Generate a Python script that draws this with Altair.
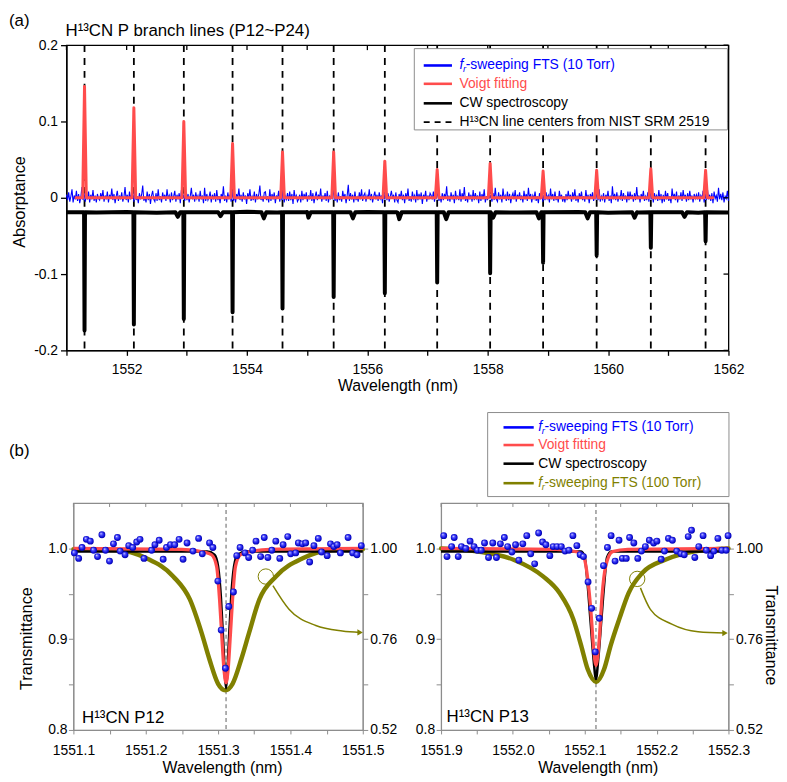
import altair as alt
import numpy as np
import pandas as pd

FONT = "Liberation Sans"
BLUE = "#0000ff"
RED = "#ff4c4c"
OLIVE = "#808000"
FRAME_GRAY = "#8c8c8c"

# ---------------- panel (a) data ----------------
A_WL_DOMAIN = [1551, 1562]
A_ABS_DOMAIN = [-0.2, 0.2]
A_WL_TICKS = [1551, 1552, 1553, 1554, 1555, 1556, 1557, 1558, 1559, 1560, 1561, 1562]
A_ABS_TICKS = [-0.2, -0.1, 0.0, 0.1, 0.2]

LINE_LABELS = ["P12", "P13", "P14", "P15", "P16", "P17", "P18",
               "P19", "P20", "P21", "P22", "P23", "P24"]
LINE_CENTERS_NM = [1551.30, 1552.12, 1552.95, 1553.76, 1554.59, 1555.44, 1556.29,
                   1557.16, 1558.04, 1558.92, 1559.81, 1560.71, 1561.62]
VOIGT_PEAK_ABS = [0.146, 0.118, 0.100, 0.071, 0.060, 0.060, 0.048,
                  0.037, 0.045, 0.035, 0.036, 0.038, 0.036]
VOIGT_SPAN_NM = [1551.16, 1561.74]
CW_DIP_ABS = [-0.174, -0.166, -0.159, -0.150, -0.145, -0.130, -0.125,
              -0.111, -0.099, -0.085, -0.0755, -0.0656, -0.057]
CW_LEVEL = -0.019
HOT_BAND_NM = [1552.85, 1553.56, 1554.28, 1555.02, 1555.76, 1556.53,
               1557.31, 1558.09, 1558.85, 1559.66, 1560.44, 1561.27]
HOT_BAND_ABS = [-0.025, -0.024, -0.027, -0.026, -0.027, -0.028,
                -0.028, -0.026, -0.027, -0.027, -0.026, -0.025]
CW_BASELINE_NM = [1551.0, 1551.5, 1552.0, 1552.5, 1553.0, 1553.5, 1554.0, 1554.5,
                  1555.0, 1555.5, 1556.0, 1556.5, 1557.0, 1557.5, 1558.0, 1558.5,
                  1559.0, 1559.5, 1560.0, 1560.5, 1561.0, 1561.5, 1562.0]
CW_BASELINE_ABS = [-0.0190, -0.0192, -0.0185, -0.0195, -0.0188, -0.0190, -0.0183, -0.0192,
                   -0.0187, -0.0190, -0.0186, -0.0193, -0.0188, -0.0191, -0.0189, -0.0194,
                   -0.0190, -0.0187, -0.0195, -0.0192, -0.0189, -0.0196, -0.0193]
# f_r-sweeping FTS (10 Torr) absorptance trace, in units of 1e-3
FTS_NOISE_MILLI = [
    4, -3, 7, -5, 2, 11, -6, 3, -2, 9, -4, 5, -7, 1, 14, -3, 6, -5, 2, -1, 8, -6, 4, -2, 10, -4, 3, -6, 5, -1,
    -3, 6, -1, 10, -5, 3, -2, 8, -6, 4, -1, 12, -3, 5, -7, 2, 9, -4, 3, -2, 7, -5, 1, 14, -3, 4, -6, 8, -2, 5,
    7, -5, 12, -3, 2, -7, 6, -2, 4, 16, -4, 1, -6, 8, -3, 5, -8, 3, 9, -2, -5, 6, -4, 11, -3, 2, -6, 7, -1, 4,
    -4, 11, -1, 3, -6, 7, -3, 2, 9, -5, 4, -2, 6, -7, 10, -1, 3, -4, 8, -3, 5, -6, 2, 13, -2, 4, -5, 7, -1, 3,
    -5, 9, -2, 3, -7, 13, -4, 5, -3, 1, 8, -6, 4, -2, 6, -5, 10, -3, 2, -7, 5, -1, 15, -4, 3, -6, 7, -2, 4, -5,
    9, -4, 2, -6, 5, -1, 12, -3, 4, -5, 7, -2, 3, -8, 6, -1, 11, -4, 2, -3, 8, -6, 5, -2, 4, 16, -3, 1, -5, 7,
    8, -3, 2, -6, 11, -4, 5, -2, 7, -7, 3, -1, 9, -5, 4, -3, 12, -6, 2, -2, 6, -4, 8, -3, 5, -8, 10, -1, 3, -5,
    -2, 4, -6, 9, -3, 5, -1, 7, -5, 3, -2, 10, -4, 6, -7, 2, 8, -3, 4, -1, 12, -5, 3, -2, 6, -4, 9, -6, 2, -1,
    6, -2, 13, -4, 4, -6, 7, -3, 2, -5, 9, -1, 5, -7, 3, 17, -4, 6, -2, 4, -6, 8, -3, 1, -5, 7, -2, 11, -4, 3,
    6, -5, 3, -1, 11, -3, 5, -6, 2, 8, -2, 4, -4, 7, -1, 3, -7, 13, -2, 5, -3, 6, -5, 2, 9, -1, 4, -6, 7, -3,
    -6, 5, -1, 9, -3, 4, -7, 6, -2, 12, -4, 2, -5, 8, -1, 3, -6, 10, -3, 5, -2, 7, -8, 4, -1, 9, -5, 3, -2, 6,
    3, -2, 8, -5, 4, -1, 10, -4, 2, -6, 6, -3, 5, -1, 15, -4, 3, -5, 7, -2, 4, -7, 9, -1, 2, -3, 11, -5, 6, -2,
    14, -4, 2, -6, 7, -2, 4, -5, 10, -3, 6, -1, 3, -7, 8, -4, 5, -2, 11, -6, 2, -3, 9, -1, 4, -5, 6, -3, 13, -2,
    -5, 7, -2, 4, -6, 12, -1, 3, -4, 8, -3, 5, -7, 2, 6, -2, 10, -5, 4, -1, 7, -3, 3, -6, 9, -2, 5, -4, 13, -1,
    5, -6, 3, -1, 8, -4, 2, -7, 6, -2, 10, -5, 4, -3, 7, -1, 3, -6, 12, -2, 5, -4, 8, -3, 2, -6, 9, -1, 4, -5,
    2, -6, 5, -3, 9, -1, 4, -5, 7, -2, 11, -4, 3, -6, 6, -1, 8, -3, 2, -5, 10, -2, 4, -7, 5, -1, 7, -4, 3, -2,
    7, -3, 11, -5, 2, -2, 6, -6, 4, -1, 9, -4, 3, -7, 15, -2, 5, -3, 7, -5, 2, -1, 10, -4, 6, -2, 3, -6, 8, -3,
    8, -1, 4, -5, 6, -3, 14, -2, 3, -6, 5, -1, 9, -4, 2, -3, 7, -5, 12, -2, 4, -6, 6, -1, 3, -4, 10, -3, 5, -7,
    4, -5, 9, -2, 6, -4, 2, -7, 12, -1, 5, -3, 8, -6, 3, -2, 7, -4, 10, -1, 4, -5, 6, -3, 9, -2, 3, -6, 5, -1,
    4, -2, 7, -5, 3, -1, 9, -6, 5, -3, 11, -2, 4, -4, 6, -7, 8, -1, 3, -5, 13, -2, 5, -3, 7, -6, 2, -1, 9, -4,
]

# ---------------- panel (b) data ----------------
B_LEFT_DOMAIN = [0.8, 1.05]
B_LEFT_TICKS = [0.8, 0.85, 0.9, 0.95, 1.0]
B_RIGHT_DOMAIN = [0.52, 1.12]
B_RIGHT_TICKS = [0.52, 0.64, 0.76, 0.88, 1.00]

P12_DOMAIN = [1551.1, 1551.5]
P12_TICKS = [1551.10, 1551.15, 1551.20, 1551.25, 1551.30, 1551.35, 1551.40, 1551.45, 1551.50]
P12_CENTER = [1551.311]
P12_FIT_NM = [1551.100, 1551.250, 1551.280, 1551.291, 1551.298, 1551.302, 1551.305, 1551.308, 1551.311,
              1551.314, 1551.317, 1551.320, 1551.324, 1551.331, 1551.342, 1551.372, 1551.500]
P12_FIT_T = [1.000, 0.999, 0.996, 0.993, 0.980, 0.944, 0.905, 0.868, 0.852,
             0.868, 0.905, 0.944, 0.980, 0.993, 0.996, 0.999, 1.000]
P12_CW_NM = [1551.100, 1551.285, 1551.295, 1551.300, 1551.304, 1551.307, 1551.309, 1551.311,
             1551.313, 1551.315, 1551.318, 1551.322, 1551.327, 1551.340, 1551.500]
P12_CW_T = [0.9965, 0.9965, 0.993, 0.980, 0.945, 0.900, 0.866, 0.846,
            0.866, 0.900, 0.945, 0.980, 0.993, 0.9965, 0.9965]
P12_100T_NM = [1551.100, 1551.160, 1551.201, 1551.238, 1551.261, 1551.277, 1551.288, 1551.300, 1551.310,
               1551.320, 1551.332, 1551.343, 1551.357, 1551.380, 1551.417, 1551.458, 1551.500]
P12_100T_T = [0.998, 0.996, 0.974, 0.926, 0.865, 0.778, 0.707, 0.642, 0.625,
              0.642, 0.707, 0.778, 0.865, 0.926, 0.974, 0.996, 0.998]
P12_DOT_NM = [
    1551.1014, 1551.1073, 1551.1119, 1551.1179, 1551.1234, 1551.1279, 1551.1334, 1551.1394, 1551.1444, 1551.1499,
    1551.1554, 1551.1609, 1551.1646, 1551.1714, 1551.1765, 1551.1820, 1551.1875, 1551.1921, 1551.1976, 1551.2081,
    1551.2127, 1551.2186, 1551.2241, 1551.2287, 1551.2342, 1551.2401, 1551.2461, 1551.2516, 1551.2571, 1551.2653,
    1551.2731, 1551.2782, 1551.2882, 1551.2928, 1551.2997, 1551.3043, 1551.3102, 1551.3148, 1551.3212, 1551.3258,
    1551.3304, 1551.3372, 1551.3423, 1551.3478, 1551.3524, 1551.3588, 1551.3638, 1551.3688, 1551.3743, 1551.3798,
    1551.3853, 1551.3899, 1551.3963, 1551.4004, 1551.4073, 1551.4110, 1551.4165, 1551.4211, 1551.4266, 1551.4325,
    1551.4385, 1551.4430, 1551.4508, 1551.4554, 1551.4600, 1551.4646, 1551.4691, 1551.4797, 1551.4861, 1551.4920,
    1551.4980,
]
P12_DOT_T = [
    0.995, 0.989, 1.001, 1.010, 1.008, 0.998, 0.991, 1.015, 0.998, 0.986,
    1.005, 1.012, 0.997, 0.993, 1.003, 1.001, 1.007, 1.010, 0.989, 0.998,
    1.004, 1.009, 0.988, 1.001, 1.004, 1.004, 1.010, 0.988, 1.006, 0.997,
    1.011, 0.994, 1.006, 1.001, 0.964, 0.910, 0.868, 0.936, 0.952, 0.992,
    1.001, 0.995, 0.990, 0.998, 1.008, 0.991, 1.012, 0.990, 0.998, 1.008,
    0.989, 1.004, 1.013, 0.994, 0.995, 1.006, 1.005, 1.006, 0.985, 1.003,
    1.011, 0.996, 0.992, 1.005, 1.002, 1.004, 0.995, 1.012, 0.995, 0.993,
    1.003,
]
P12_CIRCLE = [1551.366, 0.969]
P12_ARROW_NM = [1551.3758, 1551.398, 1551.435, 1551.4716, 1551.4963]
P12_ARROW_T = [0.959, 0.933, 0.915, 0.909, 0.9074]

P13_DOMAIN = [1551.9, 1552.3]
P13_TICKS = [1551.90, 1551.95, 1552.00, 1552.05, 1552.10, 1552.15, 1552.20, 1552.25, 1552.30]
P13_CENTER = [1552.1156]
P13_FIT_NM = [1551.900, 1552.060, 1552.090, 1552.0973, 1552.1042, 1552.1087, 1552.112, 1552.1156,
              1552.1202, 1552.124, 1552.129, 1552.1386, 1552.160, 1552.300]
P13_FIT_T = [1.000, 0.999, 0.996, 0.993, 0.966, 0.929, 0.893, 0.871,
             0.900, 0.947, 0.980, 0.9965, 0.999, 1.000]
P13_CW_NM = [1551.900, 1552.095, 1552.100, 1552.104, 1552.108, 1552.112, 1552.1156,
             1552.119, 1552.123, 1552.127, 1552.131, 1552.137, 1552.300]
P13_CW_T = [0.9965, 0.9965, 0.990, 0.960, 0.920, 0.880, 0.856,
            0.880, 0.920, 0.960, 0.990, 0.9965, 0.9965]
P13_100T_NM = [1551.900, 1551.951, 1552.001, 1552.042, 1552.065, 1552.084, 1552.095, 1552.104, 1552.116,
               1552.127, 1552.136, 1552.148, 1552.161, 1552.180, 1552.212, 1552.253, 1552.300]
P13_100T_T = [1.000, 0.992, 0.970, 0.926, 0.882, 0.813, 0.743, 0.681, 0.647,
              0.681, 0.743, 0.813, 0.882, 0.935, 0.970, 0.992, 1.000]
P13_DOT_NM = [
    1551.9037, 1551.9083, 1551.9147, 1551.9183, 1551.9239, 1551.9284, 1551.9344, 1551.9404, 1551.9459, 1551.9505,
    1551.9560, 1551.9605, 1551.9661, 1551.9720, 1551.9771, 1551.9826, 1551.9881, 1551.9927, 1551.9986, 1552.0037,
    1552.0083, 1552.0138, 1552.0193, 1552.0248, 1552.0303, 1552.0358, 1552.0413, 1552.0459, 1552.0514, 1552.0560,
    1552.0615, 1552.0674, 1552.0725, 1552.0780, 1552.0835, 1552.0890, 1552.0936, 1552.0982, 1552.1046, 1552.1096,
    1552.1147, 1552.1202, 1552.1261, 1552.1316, 1552.1367, 1552.1422, 1552.1477, 1552.1523, 1552.1578, 1552.1624,
    1552.1683, 1552.1738, 1552.1789, 1552.1844, 1552.1899, 1552.1959, 1552.2004, 1552.2064, 1552.2110, 1552.2165,
    1552.2220, 1552.2280, 1552.2339, 1552.2385, 1552.2440, 1552.2486, 1552.2532, 1552.2587, 1552.2647, 1552.2692,
    1552.2752, 1552.2798, 1552.2853, 1552.2908, 1552.2968, 1552.2995,
]
P13_DOT_T = [
    1.014, 0.991, 1.002, 1.012, 0.991, 1.002, 1.000, 1.008, 1.002, 0.998,
    0.998, 1.006, 0.990, 1.006, 0.990, 1.005, 1.012, 1.002, 0.996, 1.004,
    0.987, 1.005, 1.014, 0.994, 0.983, 1.017, 1.007, 1.004, 0.992, 1.002,
    1.002, 1.002, 0.997, 0.998, 1.014, 1.003, 0.993, 0.991, 0.963, 0.934,
    0.886, 0.923, 0.981, 1.001, 1.014, 0.986, 1.009, 0.989, 0.989, 1.012,
    1.006, 0.989, 0.997, 1.002, 1.009, 1.006, 1.008, 0.988, 0.997, 1.011,
    1.009, 0.997, 0.994, 0.993, 1.013, 1.020, 0.990, 1.002, 1.014, 0.998,
    0.992, 0.997, 1.011, 0.998, 0.998, 1.014,
]
P13_CIRCLE = [1552.173, 0.9664]
P13_ARROW_NM = [1552.1775, 1552.1913, 1552.2211, 1552.2578, 1552.2952]
P13_ARROW_T = [0.9565, 0.9329, 0.9165, 0.9081, 0.9067]

LEGEND_A = [("f_r", "-sweeping FTS (10 Torr)", BLUE, BLUE, None),
            ("", "Voigt fitting", RED, RED, None),
            ("", "CW spectroscopy", "black", "black", None),
            ("", "H¹³CN line centers from NIST SRM 2519", "black", "black", [6, 5])]
LEGEND_B = [("f_r", "-sweeping FTS (10 Torr)", BLUE, BLUE, None),
            ("", "Voigt fitting", RED, RED, None),
            ("", "CW spectroscopy", "black", "black", None),
            ("f_r", "-sweeping FTS (100 Torr)", OLIVE, OLIVE, None)]

ONE = pd.DataFrame({"k": [0]})


def txt(x, y, s, size=14, color="black", style="normal", align="left", baseline="middle"):
    return alt.Chart(ONE).mark_text(
        text=s, font=FONT, fontSize=size, color=color, fontStyle=style,
        align=align, baseline=baseline,
    ).encode(x=alt.value(x), y=alt.value(y))


def legend_layers(entries, box, sym_x, text_x, rows):
    layers = [alt.Chart(ONE).mark_rect(fill="white", stroke="#8c8c8c", strokeWidth=1).encode(
        x=alt.value(box[0]), x2=alt.value(box[1]), y=alt.value(box[2]), y2=alt.value(box[3]))]
    for (prefix, label, lcolor, tcolor, dash), yy in zip(entries, rows):
        kw = dict(color=lcolor, strokeWidth=2.6)
        if dash:
            kw["strokeDash"] = dash
            kw["strokeWidth"] = 1.8
        layers.append(alt.Chart(ONE).mark_rule(**kw).encode(
            x=alt.value(sym_x[0]), x2=alt.value(sym_x[1]), y=alt.value(yy)))
        if prefix == "f_r":
            layers.append(txt(text_x, yy, "f", color=tcolor, style="italic"))
            layers.append(txt(text_x + 3.6, yy + 4, "r", size=9.5, color=tcolor, style="italic"))
            layers.append(txt(text_x + 6.3, yy, label, color=tcolor))
        else:
            layers.append(txt(text_x, yy, label, color=tcolor))
    return layers


# ---------------- panel (a) ----------------
W_A, H_A = 668, 308
sx_a = alt.Scale(domain=A_WL_DOMAIN, nice=False, zero=False)
sy_a = alt.Scale(domain=A_ABS_DOMAIN, nice=False, zero=False)

blue_df = pd.DataFrame({"wl": np.linspace(A_WL_DOMAIN[0], A_WL_DOMAIN[1], len(FTS_NOISE_MILLI)),
                        "a": np.array(FTS_NOISE_MILLI) / 1000.0})

red_x, red_y = [VOIGT_SPAN_NM[0]], [0.0]
for c, h in zip(LINE_CENTERS_NM, VOIGT_PEAK_ABS):
    red_x += [c - 0.03, c, c + 0.03]
    red_y += [0.0, h, 0.0]
red_x.append(VOIGT_SPAN_NM[1])
red_y.append(0.0)
red_df = pd.DataFrame({"wl": red_x, "a": red_y})

cw_x, cw_y = list(CW_BASELINE_NM), list(CW_BASELINE_ABS)
for c, d in zip(LINE_CENTERS_NM, CW_DIP_ABS):
    cw_x += [c - 0.008, c, c + 0.008]
    cw_y += [CW_LEVEL, d, CW_LEVEL]
for c, d in zip(HOT_BAND_NM, HOT_BAND_ABS):
    cw_x += [c - 0.04, c, c + 0.04]
    cw_y += [CW_LEVEL, d, CW_LEVEL]
cw_df = pd.DataFrame({"wl": cw_x, "a": cw_y}).sort_values("wl")

centers_df = pd.DataFrame({"line": LINE_LABELS, "wl": LINE_CENTERS_NM})

ax_a_x = alt.Axis(
    orient="bottom", values=A_WL_TICKS, format="d",
    labelExpr="datum.value % 2 == 0 ? datum.label : ''",
    tickSize=5, tickWidth=1.3, tickColor="black", domainColor="black", domainWidth=1.3,
    labelPadding=7.5, labelFontSize=14, labelFlush=False, labelOverlap=False,
    title="Wavelength (nm)", titleFontSize=16, titleY=35.5, titleBaseline="middle")
ax_a_y = alt.Axis(
    orient="left", values=A_ABS_TICKS,
    labelExpr="datum.value == 0 ? '0' : replace(format(datum.value, '.1f'), '\u2212', '-')",
    tickSize=6, tickWidth=1.3, tickColor="black", domainColor="black", domainWidth=1.3,
    labelPadding=3, labelFontSize=14, labelOverlap=False,
    title="Absorptance", titleFontSize=16.5, titleX=-47.5, titleY=157.7,
    titleAngle=270, titleAlign="center", titleBaseline="middle")

dash_layer = alt.Chart(centers_df).mark_rule(color="black", strokeWidth=1.8, strokeDash=[7, 6]).encode(
    x=alt.X("wl:Q", scale=sx_a, axis=None))
cw_layer = alt.Chart(cw_df).mark_line(color="black", strokeWidth=4, strokeJoin="round").encode(
    x=alt.X("wl:Q", scale=sx_a, axis=None), y=alt.Y("a:Q", scale=sy_a, axis=None))
blue_layer = alt.Chart(blue_df).mark_line(color=BLUE, strokeWidth=1.1).encode(
    x=alt.X("wl:Q", scale=sx_a, axis=ax_a_x), y=alt.Y("a:Q", scale=sy_a, axis=ax_a_y))
red_layer = alt.Chart(red_df).mark_line(color=RED, strokeWidth=3, strokeJoin="round", strokeCap="round").encode(
    x=alt.X("wl:Q", scale=sx_a, axis=None), y=alt.Y("a:Q", scale=sy_a, axis=None))
top_ticks_a = alt.Chart(pd.DataFrame({"wl": A_WL_TICKS})).mark_rule(color="black", strokeWidth=1.3).encode(
    x=alt.X("wl:Q", scale=sx_a, axis=None), y=alt.value(0), y2=alt.value(5))
right_ticks_a = alt.Chart(pd.DataFrame({"a": A_ABS_TICKS})).mark_rule(color="black", strokeWidth=1.3).encode(
    y=alt.Y("a:Q", scale=sy_a, axis=None), x=alt.value(W_A - 5), x2=alt.value(W_A))

panel_a = alt.layer(
    dash_layer, cw_layer, blue_layer, red_layer, top_ticks_a, right_ticks_a,
    *legend_layers(LEGEND_A, [351, 667, 3.5, 85.5], [360.5, 389], 396.5, [20.5, 39, 58.7, 77.7]),
    txt(-1, -13.8, "H¹³CN P branch lines (P12~P24)", size=17),
    txt(-58, -32, "(a)", size=17, baseline="top"),
    txt(-58, 410, "(b)", size=17),
).resolve_scale(x="independent", y="independent").properties(
    width=W_A, height=H_A, view=alt.ViewBackground(stroke="black", strokeWidth=1.3))


# ---------------- panel (b) ----------------
H_B = 229
DOT_FILL = alt.RadialGradient(
    gradient="radial", x1=0.35, y1=0.3, r1=0.0, x2=0.5, y2=0.5, r2=0.55,
    stops=[alt.GradientStop(offset=0, color="#ffffff"),
           alt.GradientStop(offset=0.3, color="#5a5aff"),
           alt.GradientStop(offset=0.7, color="#1010e0"),
           alt.GradientStop(offset=1, color="#000090")])


def panel_b(domain, ticks, center, fit_nm, fit_t, cw_nm, cw_t, hp_nm, hp_t, dot_nm, dot_t,
            circle, arrow_nm, arrow_t, label, label_xy, width, left_title, right_title, xtitle_x, legend):
    sx = alt.Scale(domain=domain, nice=False, zero=False)
    syl = alt.Scale(domain=B_LEFT_DOMAIN, nice=False, zero=False)
    syr = alt.Scale(domain=B_RIGHT_DOMAIN, nice=False, zero=False)

    x_axis = alt.Axis(
        orient="bottom", values=ticks, format=".1f",
        labelExpr="abs(datum.value * 10 - round(datum.value * 10)) < 0.01 ? datum.label : ''",
        tickSize=4, tickColor=FRAME_GRAY, domainColor=FRAME_GRAY, labelPadding=9.5,
        labelFontSize=14, labelFlush=False, labelOverlap=False,
        title="Wavelength (nm)", titleFontSize=16, titleY=37.6, titleX=xtitle_x,
        titleBaseline="middle", titleAlign="center")
    lkw = dict(orient="left", values=B_LEFT_TICKS, format=".1f",
               labelExpr="abs(datum.value * 10 - round(datum.value * 10)) < 0.01 ? datum.label : ''",
               tickSize=5, tickColor=FRAME_GRAY, domainColor=FRAME_GRAY, labelPadding=1.5,
               labelFontSize=14, labelOverlap=False)
    if left_title:
        lkw.update(title=left_title, titleFontSize=16.5, titleX=-47.7, titleY=136.3, titleAngle=270,
                   titleAlign="center", titleBaseline="middle")
    else:
        lkw.update(title=None)
    rkw = dict(orient="right", values=B_RIGHT_TICKS, format=".2f",
               labelExpr="(abs(datum.value - 0.64) < 0.001 || abs(datum.value - 0.88) < 0.001) ? '' : datum.label",
               tickSize=5, tickColor=FRAME_GRAY, domainColor=FRAME_GRAY, labelPadding=2,
               labelFontSize=14, labelOverlap=False)
    if right_title:
        rkw.update(title=right_title, titleFontSize=16, titleX=42, titleY=133, titleAngle=90,
                   titleAlign="center", titleBaseline="middle")
    else:
        rkw.update(title=None)

    center_l = alt.Chart(pd.DataFrame({"wl": center})).mark_rule(
        color="#7a7a7a", strokeWidth=1.2, strokeDash=[4, 3]).encode(x=alt.X("wl:Q", scale=sx, axis=None))
    hp_l = alt.Chart(pd.DataFrame({"wl": hp_nm, "t": hp_t})).mark_line(
        color=OLIVE, strokeWidth=4.5, interpolate="monotone", strokeCap="round").encode(
        x=alt.X("wl:Q", scale=sx, axis=None), y=alt.Y("t:Q", scale=syr, axis=alt.Axis(**rkw)))
    cw_l = alt.Chart(pd.DataFrame({"wl": cw_nm, "t": cw_t})).mark_line(
        color="black", strokeWidth=2.5, interpolate="monotone").encode(
        x=alt.X("wl:Q", scale=sx, axis=None), y=alt.Y("t:Q", scale=syl, axis=None))
    fit_l = alt.Chart(pd.DataFrame({"wl": fit_nm, "t": fit_t})).mark_line(
        color=RED, strokeWidth=3.3, interpolate="monotone").encode(
        x=alt.X("wl:Q", scale=sx, axis=None), y=alt.Y("t:Q", scale=syl, axis=None))
    dot_l = alt.Chart(pd.DataFrame({"wl": dot_nm, "t": dot_t})).mark_circle(
        size=48, fill=DOT_FILL, opacity=1).encode(
        x=alt.X("wl:Q", scale=sx, axis=x_axis), y=alt.Y("t:Q", scale=syl, axis=alt.Axis(**lkw)))
    circ_l = alt.Chart(pd.DataFrame({"wl": [circle[0]], "t": [circle[1]]})).mark_point(
        shape="circle", size=240, filled=False, color=OLIVE, strokeWidth=1, opacity=1).encode(
        x=alt.X("wl:Q", scale=sx, axis=None), y=alt.Y("t:Q", scale=syl, axis=None))
    arrow_l = alt.Chart(pd.DataFrame({"wl": arrow_nm, "t": arrow_t})).mark_line(
        color=OLIVE, strokeWidth=1.5, interpolate="monotone").encode(
        x=alt.X("wl:Q", scale=sx, axis=None), y=alt.Y("t:Q", scale=syl, axis=None))
    head_l = alt.Chart(pd.DataFrame({"wl": arrow_nm[-1:], "t": arrow_t[-1:]})).mark_point(
        shape="triangle-right", size=40, filled=True, color=OLIVE, opacity=1).encode(
        x=alt.X("wl:Q", scale=sx, axis=None), y=alt.Y("t:Q", scale=syl, axis=None))
    top_t = alt.Chart(pd.DataFrame({"wl": ticks})).mark_rule(color=FRAME_GRAY, strokeWidth=1).encode(
        x=alt.X("wl:Q", scale=sx, axis=None), y=alt.value(0), y2=alt.value(4))
    lab = txt(label_xy[0], label_xy[1], label, size=17)
    layers = [center_l, hp_l, cw_l, fit_l, dot_l, circ_l, arrow_l, head_l, top_t, lab] + legend
    return alt.layer(*layers).resolve_scale(x="independent", y="independent").properties(
        width=width, height=H_B, view=alt.ViewBackground(stroke=FRAME_GRAY, strokeWidth=1.2))


b1 = panel_b(P12_DOMAIN, P12_TICKS, P12_CENTER, P12_FIT_NM, P12_FIT_T, P12_CW_NM, P12_CW_T,
             P12_100T_NM, P12_100T_T, P12_DOT_NM, P12_DOT_T, P12_CIRCLE, P12_ARROW_NM, P12_ARROW_T,
             "H¹³CN P12", (8.7, 217), 292, "Transmittance", None, 150, [])
b2 = panel_b(P13_DOMAIN, P13_TICKS, P13_CENTER, P13_FIT_NM, P13_FIT_T, P13_CW_NM, P13_CW_T,
             P13_100T_NM, P13_100T_T, P13_DOT_NM, P13_DOT_T, P13_CIRCLE, P13_ARROW_NM, P13_ARROW_T,
             "H¹³CN P13", (5.5, 215.5), 290, None, "Transmittance", 158,
             legend_layers(LEGEND_B, [47, 290.5, -91.3, -6.5], [63, 93.5], 98, [-76.3, -58.5, -39.7, -20]))

spacer = alt.Chart(ONE).mark_point(opacity=0).encode(
    x=alt.value(0), y=alt.value(0)).properties(width=1, height=1)

row_b = alt.hconcat(spacer, alt.hconcat(b1, b2, spacing=79, bounds="flush"), spacing=6, bounds="flush")

chart = alt.vconcat(panel_a, row_b, spacing=154, bounds="flush").properties(
    padding=0
).configure_view(stroke=None).configure_axis(
    labelFont=FONT, titleFont=FONT, titleFontWeight="normal", grid=False,
    labelColor="black", titleColor="black")

chart.save("out.html", embed_options={"renderer": "svg", "actions": False})
